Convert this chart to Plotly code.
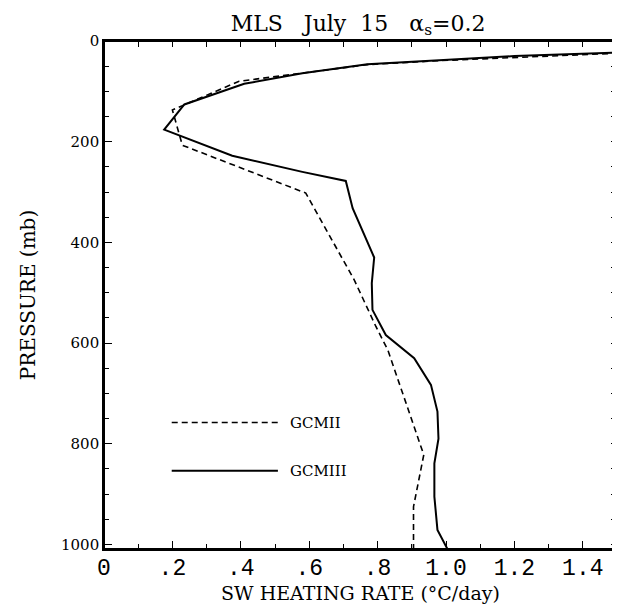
import plotly.graph_objects as go

# GCMIII (solid)
gcm3_rate = [1.62, 1.20, 0.98, 0.77, 0.58, 0.41, 0.235, 0.176, 0.375, 0.58, 0.707, 0.727,
             0.79, 0.783, 0.785, 0.824, 0.907, 0.956, 0.975, 0.978, 0.966, 0.966, 0.975, 1.005]
gcm3_pres = [20, 30, 38, 46, 64, 85, 126, 176, 228, 260, 278, 332,
             430, 481, 534, 584, 630, 683, 736, 790, 839, 905, 971, 1010]

# GCMII (dashed)
gcm2_rate = [1.62, 1.20, 0.98, 0.77, 0.58, 0.395, 0.20, 0.229, 0.59, 0.732, 0.795, 0.83,
             0.935, 0.905, 0.905]
gcm2_pres = [21, 32, 39, 47, 64, 80, 137, 207, 302, 475, 567, 614,
             822, 925, 1010]

x_ticks = [0, 0.2, 0.4, 0.6, 0.8, 1.0, 1.2, 1.4]
x_ticktext = ["0", ".2", ".4", ".6", ".8", "1.0", "1.2", "1.4"]
y_ticks = [0, 200, 400, 600, 800, 1000]
legend_names = ["GCMII", "GCMIII"]

fig = go.Figure()
fig.add_trace(go.Scatter(x=gcm2_rate, y=gcm2_pres, mode="lines",
                         line=dict(color="black", width=1.6, dash="6px,4px"),
                         name=legend_names[0], showlegend=False))
fig.add_trace(go.Scatter(x=gcm3_rate, y=gcm3_pres, mode="lines",
                         line=dict(color="black", width=2),
                         name=legend_names[1], showlegend=False))
# invisible trace to activate mirror axes (top / right ticks)
fig.add_trace(go.Scatter(x=[0.5], y=[500], xaxis="x2", yaxis="y2", mode="markers",
                         marker=dict(opacity=0), showlegend=False, hoverinfo="skip"))

# frame around the plot area
fig.add_shape(type="rect", xref="paper", yref="paper", x0=0, x1=1, y0=0, y1=1,
              line=dict(color="black", width=2), layer="above")

# legend drawn manually
leg_y = [0.249, 0.154]
dashes = ["6px,4px", "solid"]
widths = [1.6, 2]
for name, yy, d, w in zip(legend_names, leg_y, dashes, widths):
    fig.add_shape(type="line", xref="paper", yref="paper", x0=0.132, x1=0.339, y0=yy, y1=yy,
                  line=dict(color="black", width=w, dash=d))
    fig.add_annotation(xref="paper", yref="paper", x=0.358, y=yy, text=name, showarrow=False,
                       xanchor="left", yanchor="middle",
                       font=dict(family="DejaVu Serif", size=15, color="black"))

# page body has an 8px margin, so the figure is sized to fit inside the window
fig.update_layout(
    width=612, height=606,
    margin=dict(l=96, r=3, t=33, b=65),
    paper_bgcolor="white", plot_bgcolor="white",
    title=dict(text="MLS   July  15   α<sub>s</sub>=0.2", x=0.572, xanchor="center",
               y=0.975, yanchor="middle",
               font=dict(family="DejaVu Serif", size=22, color="black")),
    xaxis=dict(range=[0, 1.5], tickvals=x_ticks, ticktext=x_ticktext, automargin=False,
               ticks="inside", ticklen=8, tickwidth=1.3, tickcolor="black",
               minor=dict(dtick=0.1, tick0=0, ticks="inside", ticklen=5, tickwidth=1.3, tickcolor="black"),
               showline=True, linecolor="black", linewidth=1.6,
               showgrid=False, zeroline=False, ticklabelstandoff=-3,
               tickfont=dict(family="Liberation Mono", size=23, color="black"),
               title=dict(text="SW HEATING RATE (°C/day)", standoff=4,
                          font=dict(family="DejaVu Serif", size=19, color="black"))),
    yaxis=dict(range=[1009, 0], tickvals=y_ticks, automargin=False,
               ticks="inside", ticklen=8, tickwidth=1.3, tickcolor="black",
               minor=dict(dtick=50, tick0=0, ticks="inside", ticklen=5, tickwidth=1.3, tickcolor="black"),
               showline=True, linecolor="black", linewidth=1.6,
               showgrid=False, zeroline=False,
               tickfont=dict(family="DejaVu Serif", size=15, color="black"),
               title=dict(text="PRESSURE (mb)", standoff=20,
                          font=dict(family="DejaVu Serif", size=20, color="black"))),
    xaxis2=dict(range=[0, 1.5], overlaying="x", side="top", anchor="y", automargin=False,
                tickmode="linear", tick0=0, dtick=0.1, ticks="inside", ticklen=6,
                tickwidth=1.3, tickcolor="black", showticklabels=False,
                showline=True, linecolor="black", linewidth=1.6,
                showgrid=False, zeroline=False),
    yaxis2=dict(range=[1009, 0], overlaying="y", side="right", anchor="x", automargin=False,
                tickmode="linear", tick0=0, dtick=50, ticks="inside", ticklen=6,
                tickwidth=1.3, tickcolor="black", showticklabels=False,
                showline=True, linecolor="black", linewidth=1.6,
                showgrid=False, zeroline=False),
)

fig.write_html("out.html")
